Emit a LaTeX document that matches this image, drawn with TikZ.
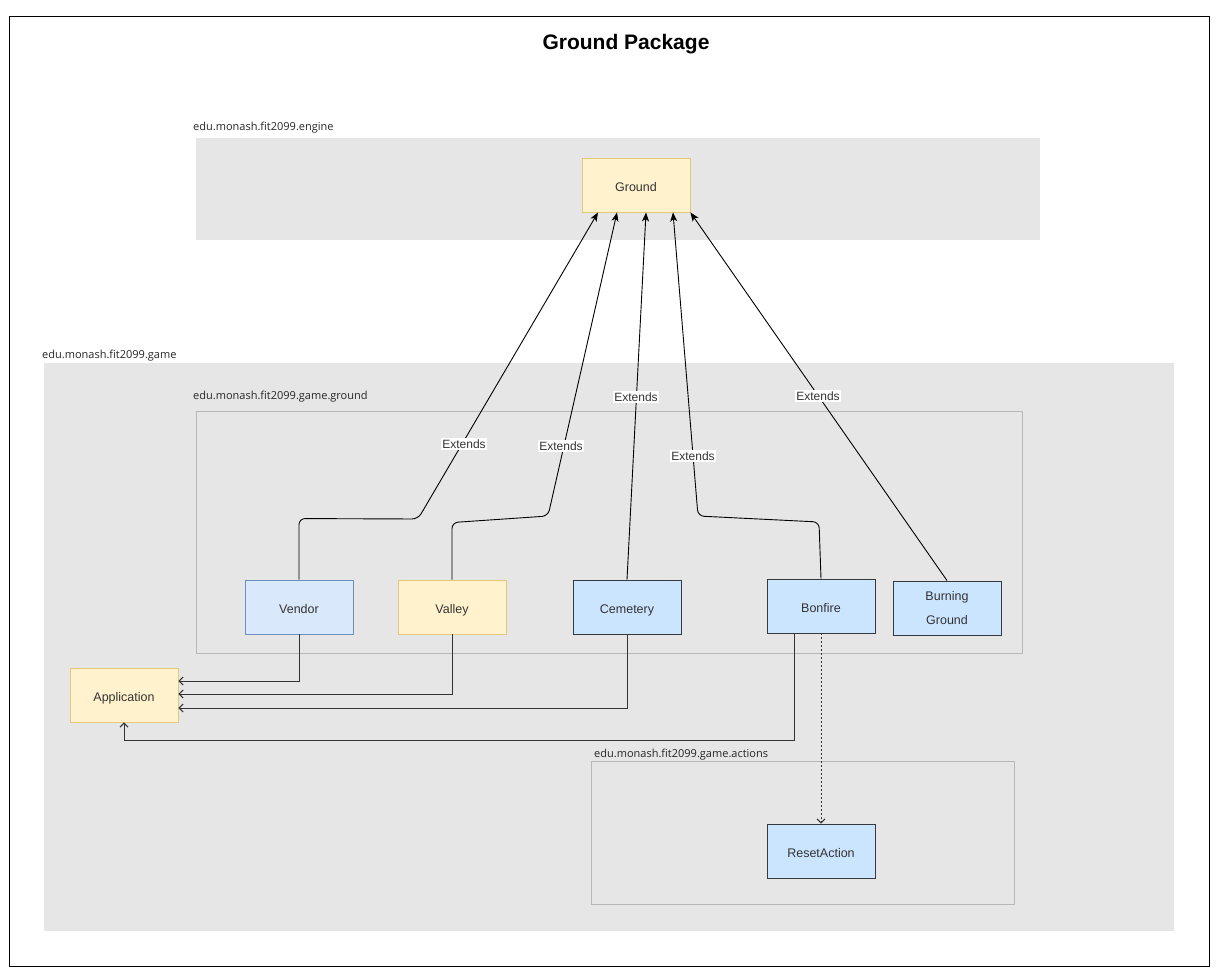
\documentclass[tikz,border=0pt]{standalone}
\usepackage{fontspec}
\setmainfont{Liberation Sans}
\newfontfamily\pkgfont{Open Sans}
\usetikzlibrary{arrows.meta}
\definecolor{pkggray}{HTML}{E6E6E6}
\definecolor{yelfill}{HTML}{FFF2CC}
\definecolor{yeldraw}{HTML}{E3C87A}
\definecolor{vfill}{HTML}{DAE8FC}
\definecolor{vdraw}{HTML}{6C8EBF}
\definecolor{bfill}{HTML}{CCE5FF}
\definecolor{bdraw}{HTML}{36393D}
\definecolor{subdraw}{HTML}{B8B8B8}
\definecolor{txt}{HTML}{333333}
\tikzset{
  cls/.style={minimum width=108pt,minimum height=54pt,inner sep=0pt,font=\fontsize{12.5}{15}\selectfont,text=txt,align=center},
  oneline/.style={text height=13pt,text depth=0pt},
  yel/.style={cls,oneline,fill=yelfill,draw=yeldraw,line width=0.9pt},
  vend/.style={cls,oneline,fill=vfill,draw=vdraw,line width=0.9pt},
  blu/.style={cls,fill=bfill,draw=bdraw,line width=0.9pt},
  pkg/.style={fill=pkggray,draw=none},
  subpkg/.style={draw=subdraw,line width=0.9pt},
  pkglabel/.style={anchor=south west,inner sep=1pt,font=\pkgfont\fontsize{11}{13}\selectfont,text=black!85},
  ext/.style={draw=black,line width=0.9pt,rounded corners=6pt,-{Stealth[length=9pt,width=7pt,inset=2.5pt]}},
  extlabel/.style={fill=white,inner sep=1.5pt,font=\fontsize{12}{14}\selectfont,text=txt},
  assoc/.style={draw=txt,line width=1pt,-{Straight Barb[length=4pt,width=8pt]}},
  dep/.style={draw=txt,line width=1pt,dash pattern=on 2pt off 2pt,-{Straight Barb[length=4pt,width=8pt]}}
}
\begin{document}
\begin{tikzpicture}[x=1pt,y=-1pt]
\useasboundingbox (0,0) rectangle (1218,972);
\fill[white] (0,0) rectangle (1218,972);
\draw[black,line width=1pt] (9,16) rectangle (1209,966);
\node[font=\bfseries\fontsize{21}{25}\selectfont] (title) at (626,44) {Ground Package};

% packages
\path[pkg] (196,138) rectangle (1040,240);
\node[pkglabel] (lengine) at (192,134) {edu.monash.fit2099.engine};
\path[pkg] (44,363) rectangle (1174,931);
\node[pkglabel] (lgame) at (41,362) {edu.monash.fit2099.game};
\draw[subpkg] (196,411) rectangle (1022,653);
\node[pkglabel] (lground) at (192,403) {edu.monash.fit2099.game.ground};
\draw[subpkg] (591,761) rectangle (1014,904);
\node[pkglabel] (lactions) at (593,761) {edu.monash.fit2099.game.actions};

% classes
\node[yel] (ground) at (636,185) {Ground};
\node[vend] (vendor) at (299,607) {Vendor};
\node[yel] (valley) at (452,607) {Valley};
\node[blu,oneline] (cemetery) at (627,607) {Cemetery};
\node[blu,oneline] (bonfire) at (821,606) {Bonfire};
\node[blu] (burning) at (947,608) {Burning\\[9pt]Ground};
\node[yel] (app) at (124,695) {Application};
\node[blu,oneline] (reset) at (821,851) {ResetAction};

% extends
\draw[ext] (vendor.north) -- ++(0,-61) -- (418,519) -- (ground.south west -| 598,0);
\draw[ext] (valley.north) -- ++(0,-57) -- (548,516) -- (ground.south west -| 617,0);
\draw[ext] (cemetery.north) -- (ground.south west -| 646,0);
\draw[ext] (bonfire.north) -- (819,522) -- (698,516) -- (ground.south west -| 673,0);
\draw[ext] (burning.north) -- (ground.south east);
\node[extlabel] (e1) at (464,444) {Extends};
\node[extlabel] (e2) at (561,446) {Extends};
\node[extlabel] (e3) at (636,397) {Extends};
\node[extlabel] (e4) at (693,456) {Extends};
\node[extlabel] (e5) at (818,396) {Extends};

% to application
\draw[assoc] (vendor.south) |- (app.east |- 0,681);
\draw[assoc] (valley.south) |- (app.east |- 0,694);
\draw[assoc] (cemetery.south) |- (app.east |- 0,708);
\draw[assoc] (bonfire.south -| 794,0) -- (794,740) -- (124,740) -- (app.south);
\draw[dep] (bonfire.south) -- (reset.north);
\end{tikzpicture}
\end{document}
